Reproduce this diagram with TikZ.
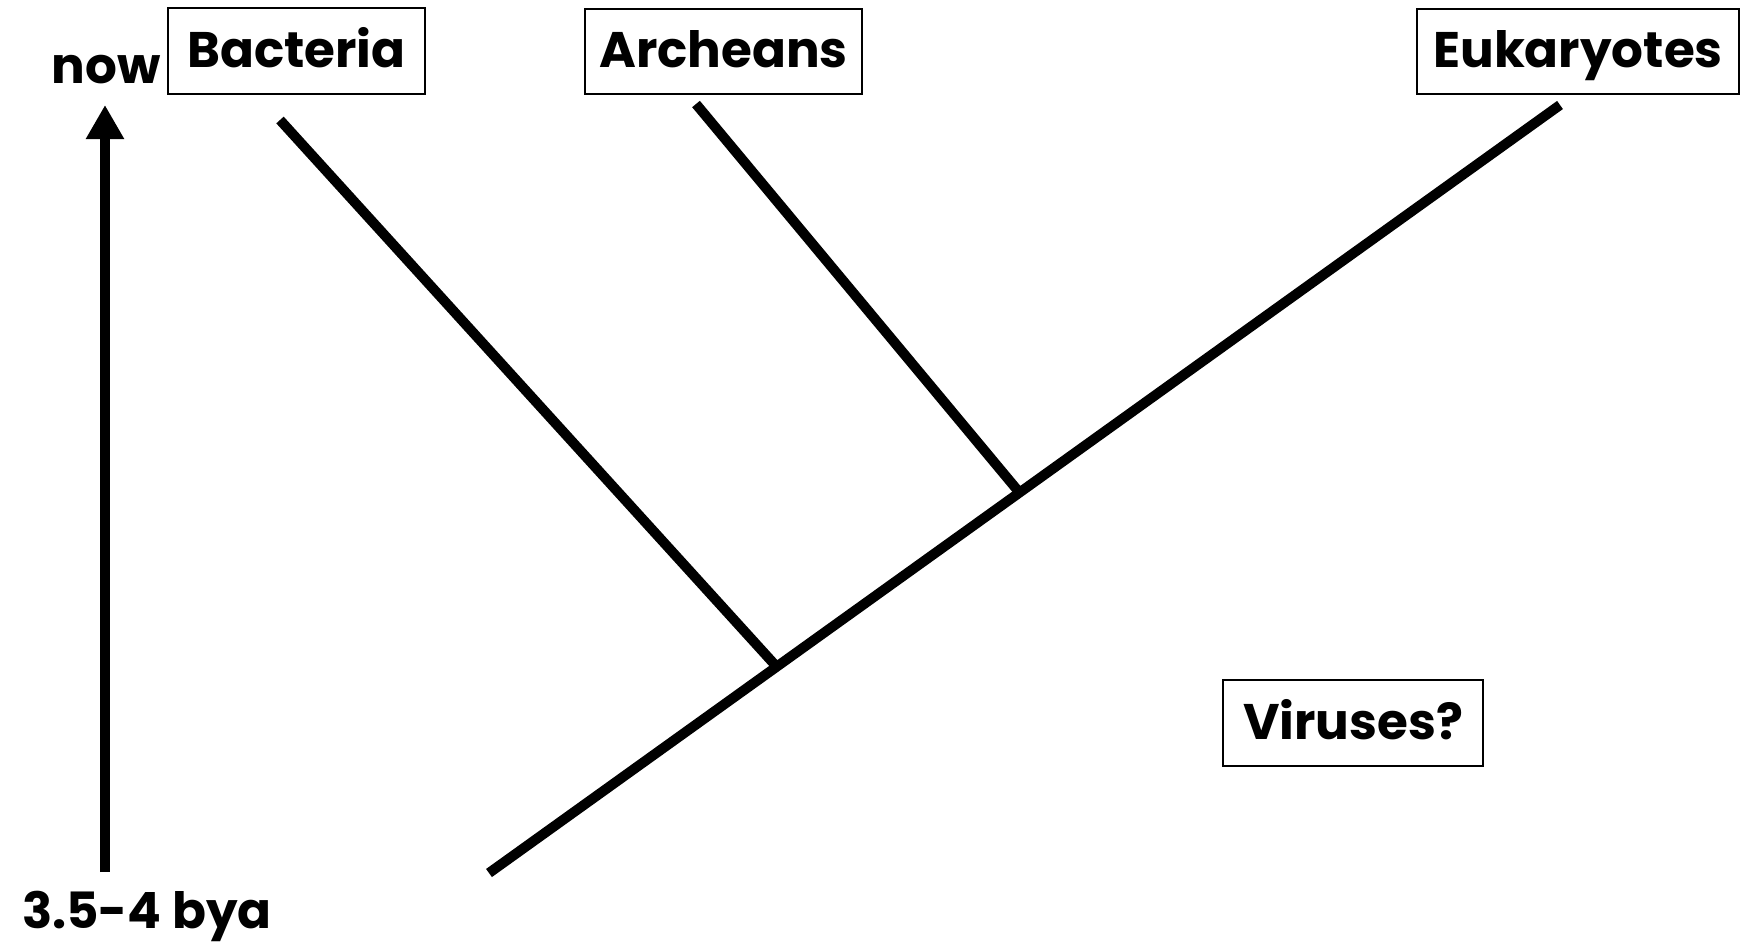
\documentclass[tikz,border=0pt]{standalone}
\usepackage{fontspec}
\setmainfont{Poppins}
\usetikzlibrary{arrows.meta}
\begin{document}
\begin{tikzpicture}[x=0.5pt,y=-0.5pt,
  lbl/.style={font=\fontsize{25}{30}\selectfont\bfseries, inner sep=0pt},
  taxon/.style={draw, line width=0.75pt, font=\fontsize{25}{30}\selectfont\bfseries, inner sep=0pt, text height=21pt, text depth=5pt},
  branch/.style={line width=5pt, line cap=butt},
  timeline/.style={line width=5.25pt, -{Triangle[length=17pt,width=18pt]}}]
\useasboundingbox[fill=white] (0,0) rectangle (1741,948);
% boxed labels
\node[taxon, minimum width=128.5pt, minimum height=43pt] (bac) at (296.5,51) {Bacteria};
\node[taxon, minimum width=138.5pt, minimum height=42.5pt] (arc) at (723.5,51.5) {Archeans};
\node[taxon, minimum width=161pt, minimum height=42.5pt] (euk) at (1578,51.5) {Eukaryotes};
\node[taxon, minimum width=130pt, minimum height=43pt] (vir) at (1353,723) {Viruses?};
% time axis
\node[lbl] (now) at (106,70) {now};
\node[lbl] (bya) at (147,916) {3.5-4 bya};
\coordinate (tbot) at (105,872);
\coordinate (ttop) at (105,105);
\draw[timeline] (tbot) -- (ttop);
% tree
\coordinate (root) at (489,873);
\coordinate (eukend) at (1560,105);
\coordinate (bacend) at (280,120);
\coordinate (bacj) at (776,666);
\coordinate (arcend) at (696,104);
\coordinate (arcj) at (1019,492);
\draw[branch] (root) -- (eukend);
\draw[branch] (bacend) -- (bacj);
\draw[branch] (arcend) -- (arcj);
\end{tikzpicture}
\end{document}
